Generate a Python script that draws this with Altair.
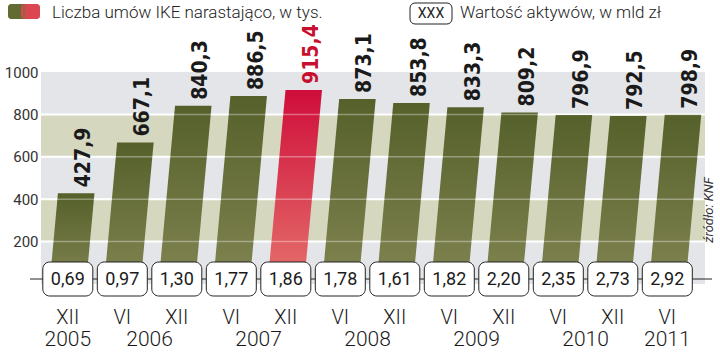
import altair as alt
import pandas as pd

# ---- data ----
periods = ["XII", "VI", "XII", "VI", "XII", "VI", "XII", "VI", "XII", "VI", "XII", "VI"]
years = [2005, 2006, 2006, 2007, 2007, 2008, 2008, 2009, 2009, 2010, 2010, 2011]
contracts = [427.9, 667.1, 840.3, 886.5, 915.4, 873.1, 853.8, 833.3, 809.2, 796.9, 792.5, 798.9]
assets = [0.69, 0.97, 1.30, 1.77, 1.86, 1.78, 1.61, 1.82, 2.20, 2.35, 2.73, 2.92]
highlight = [False, False, False, False, True, False, False, False, False, False, False, False]
band_lo = [0, 200, 400, 600, 800]
band_hi = [200, 400, 600, 800, 1000]
band_kind = ["a", "b", "a", "b", "a"]
grid_vals = [200, 400, 600, 800]

SLANT = 0.00036   # horizontal lean of bar tops (index units per value unit)
HALF = 0.335      # half bar width in index units

idx = list(range(len(contracts)))
df = pd.DataFrame({
    "idx": idx,
    "period": periods,
    "year": years,
    "value": contracts,
    "assets": assets,
    "hl": [int(h) for h in highlight],
})
df["label"] = df["value"].map(lambda v: f"{v:.1f}".replace(".", ","))
df["alabel"] = df["assets"].map(lambda v: f"{v:.2f}".replace(".", ","))
df["topx"] = df["idx"] + SLANT * df["value"]

# outline points of each slanted (parallelogram) bar, as a vertical area
rows = []
for i, v, h in zip(idx, contracts, df["hl"]):
    a, b, s = i - HALF, i + HALF, SLANT * v
    for px, top, bot in [(a, 0.0, 0.0), (a + s, v, 0.0), (b, v, 0.0), (b + s, v, v)]:
        rows.append({"idx": i, "hl": int(h), "px": px, "top": top, "bot": bot})
poly = pd.DataFrame(rows)

yr = df.groupby("year", as_index=False)["idx"].mean()

bands = pd.DataFrame({"lo": band_lo, "hi": band_hi, "kind": band_kind})
grid = pd.DataFrame({"g": grid_vals})

xs = alt.Scale(domain=[-0.4, 11.6], nice=False, zero=False)
ys = alt.Scale(domain=[0, 1000], nice=False)

FONT = "Roboto"
BOLD = "DejaVu Sans Condensed, Liberation Sans Narrow, sans-serif"

yaxis = alt.Axis(values=[200, 400, 600, 800, 1000], format="d", domain=False, ticks=False, grid=False,
                 title=None, labelFontSize=15, labelColor="#333333", labelFont=FONT, labelPadding=3)

band_layer = alt.Chart(bands).mark_rect().encode(
    y=alt.Y("lo:Q", scale=ys, axis=yaxis),
    y2="hi:Q",
    color=alt.Color("kind:N", scale=alt.Scale(domain=["a", "b"], range=["#e3e5e8", "#d5d7bf"]), legend=None),
)

grid_back = alt.Chart(grid).mark_rule(color="white", strokeWidth=2).encode(
    y=alt.Y("g:Q", scale=ys, axis=yaxis)
)

olive = alt.Gradient(gradient="linear", x1=0, x2=0, y1=0, y2=1,
                     stops=[alt.GradientStop(color="#55602a", offset=0),
                            alt.GradientStop(color="#818451", offset=1)])
red = alt.Gradient(gradient="linear", x1=0, x2=0, y1=0, y2=1,
                   stops=[alt.GradientStop(color="#cf0d3a", offset=0),
                          alt.GradientStop(color="#e5726c", offset=1)])


def bar_layer(flag, grad):
    return alt.Chart(poly).transform_filter(f"datum.hl == {flag}").mark_area(color=grad).encode(
        x=alt.X("px:Q", scale=xs, axis=None),
        y=alt.Y("top:Q", scale=ys, axis=yaxis, stack=None),
        y2="bot:Q",
        detail="idx:N",
    )


bars_olive = bar_layer(0, olive)
bars_red = bar_layer(1, red)

grid_front = alt.Chart(grid).mark_rule(color="white", strokeWidth=1.5, opacity=0.35).encode(
    y=alt.Y("g:Q", scale=ys, axis=yaxis)
)

value_labels = alt.Chart(df).mark_text(angle=270, align="left", baseline="middle", dx=6, dy=8,
                                       font=BOLD, fontWeight="bold", fontSize=21).encode(
    x=alt.X("topx:Q", scale=xs, axis=None),
    y=alt.Y("value:Q", scale=ys, axis=yaxis),
    text="label:N",
    color=alt.condition("datum.hl == 1", alt.value("#c8102e"), alt.value("#1a1a1a")),
)

one = df[df["idx"] == 0]

connector = alt.Chart(one).mark_rule(color="#222222", strokeWidth=1).encode(
    x=alt.value(-11), x2=alt.value(671), y=alt.value(207)
)

boxes = alt.Chart(df).mark_bar(size=50, cornerRadius=7, fill="white", stroke="#222222", strokeWidth=1).encode(
    x=alt.X("idx:Q", scale=xs, axis=None),
    y=alt.value(190), y2=alt.value(224),
)
box_text = alt.Chart(df).mark_text(font=FONT, fontSize=18, color="#1a1a1a", baseline="middle").encode(
    x=alt.X("idx:Q", scale=xs, axis=None),
    y=alt.value(208),
    text="alabel:N",
)

period_text = alt.Chart(df).mark_text(font=FONT, fontSize=20, color="#1a1a1a", baseline="middle",
                                      fontWeight=300).encode(
    x=alt.X("idx:Q", scale=xs, axis=None),
    y=alt.value(246),
    text="period:N",
)
year_text = alt.Chart(yr).mark_text(font=FONT, fontSize=21, color="#1a1a1a", baseline="middle",
                                    fontWeight=300).encode(
    x=alt.X("idx:Q", scale=xs, axis=None),
    y=alt.value(268),
    text="year:N",
)

# legend & source
swatch_l = alt.Chart(one).mark_rect(color="#626b32", cornerRadius=3).encode(
    x=alt.value(-33), x2=alt.value(-14), y=alt.value(-68), y2=alt.value(-53)
)
swatch_r = alt.Chart(one).mark_rect(color="#dc4650", cornerRadius=3).encode(
    x=alt.value(-20), x2=alt.value(-1), y=alt.value(-68), y2=alt.value(-53)
)
swatch_mid = alt.Chart(one).mark_rect(color="#8c6a40").encode(
    x=alt.value(-18), x2=alt.value(-16), y=alt.value(-68), y2=alt.value(-53)
)
leg1 = alt.Chart(one).mark_text(
    text="Liczba umów IKE narastająco, w tys.", align="left", baseline="middle",
    font=FONT, fontSize=17, fontWeight=300, color="#222222").encode(x=alt.value(11), y=alt.value(-59))
xxx_box = alt.Chart(one).mark_rect(
    fill="white", stroke="#222222", strokeWidth=1, cornerRadius=5).encode(
    x=alt.value(369), x2=alt.value(411), y=alt.value(-69), y2=alt.value(-48))
xxx_text = alt.Chart(one).mark_text(
    text="XXX", align="center", baseline="middle", font=FONT, fontSize=14, color="#222222").encode(
    x=alt.value(390), y=alt.value(-58))
leg2 = alt.Chart(one).mark_text(
    text="Wartość aktywów, w mld zł", align="left", baseline="middle",
    font=FONT, fontSize=17, fontWeight=300, color="#222222").encode(x=alt.value(419), y=alt.value(-59))
source = alt.Chart(one).mark_text(
    text="źródło: KNF", angle=270, align="center", baseline="middle", font=FONT, fontSize=13,
    fontStyle="italic", color="#333333").encode(x=alt.value(668), y=alt.value(138))

chart = alt.layer(
    band_layer, grid_back, bars_olive, bars_red, grid_front, value_labels,
    connector, boxes, box_text, period_text, year_text,
    swatch_l, swatch_r, swatch_mid, leg1, xxx_box, xxx_text, leg2, source,
).properties(
    width=664, height=212,
    autosize=alt.AutoSizeParams(type="none"),
    padding={"left": 41, "top": 72, "right": 15, "bottom": 69},
    background="white",
).configure_view(stroke=None)

chart.save("out.html", embed_options={"renderer": "svg", "actions": False})
